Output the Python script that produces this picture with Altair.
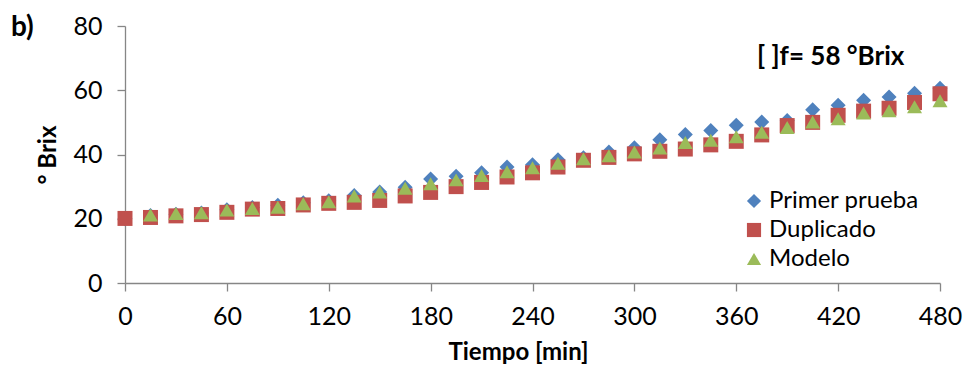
import altair as alt
import pandas as pd

times = list(range(0, 481, 15))

primer = [20.0, 21.0, 21.4, 21.8, 22.8, 23.5, 24.2, 25.0, 25.6, 27.2, 28.3, 29.8,
          32.4, 33.2, 34.3, 36.1, 36.8, 38.4, 39.0, 40.8, 42.1, 44.6, 46.2, 47.5,
          49.1, 50.1, 50.6, 53.9, 55.3, 56.9, 57.9, 59.1, 60.6]
duplicado = [20.1, 20.4, 20.9, 21.3, 22.0, 23.0, 23.2, 24.3, 24.8, 25.1, 25.7, 27.1,
             28.2, 30.0, 31.3, 33.0, 34.3, 36.1, 38.2, 39.1, 40.2, 41.0, 41.7, 43.0,
             44.1, 46.1, 49.0, 50.0, 52.2, 53.5, 54.4, 56.2, 58.9]
modelo = [None, 21.2, 21.6, 21.9, 22.7, 23.2, 23.6, 24.7, 25.3, 27.1, 28.3, 29.5,
          30.9, 32.1, 33.5, 34.6, 35.9, 37.3, 38.7, 39.6, 40.8, 42.0, 43.7, 44.4,
          45.5, 46.9, 48.4, 50.1, 51.1, 52.9, 53.6, 54.9, 56.7]

series_names = ["Primer prueba", "Duplicado", "Modelo"]
series_values = [primer, duplicado, modelo]
series_colors = ["#4F81BD", "#C0504D", "#9BBB59"]
series_shapes = ["diamond", "square", "triangle-up"]

x_ticks = list(range(0, 481, 60))
y_ticks = [0, 20, 40, 60, 80]

rows = []
for name, vals in zip(series_names, series_values):
    for t, v in zip(times, vals):
        if v is not None:
            rows.append({"Tiempo": t, "Brix": v, "Serie": name})
df = pd.DataFrame(rows)

FONT = "Lato"

legend_opts = dict(title=None, orient="none", legendX=617, legendY=163,
                   labelFontSize=24, labelFont=FONT, labelColor="#000000",
                   symbolSize=200, rowPadding=5, labelOffset=3, symbolOpacity=1)

points = alt.Chart(df).mark_point(filled=True, opacity=1, size=225).encode(
    x=alt.X("Tiempo:Q",
            scale=alt.Scale(domain=[0, 480], nice=False, zero=False),
            axis=alt.Axis(values=x_ticks, title="Tiempo [min]", grid=False,
                          labelFlush=False, titleX=393)),
    y=alt.Y("Brix:Q",
            scale=alt.Scale(domain=[0, 80], nice=False),
            axis=alt.Axis(values=y_ticks, title="° Brix", grid=False,
                          labelFlush=False)),
    color=alt.Color("Serie:N",
                    scale=alt.Scale(domain=series_names, range=series_colors),
                    legend=alt.Legend(**legend_opts)),
    shape=alt.Shape("Serie:N",
                    scale=alt.Scale(domain=series_names, range=series_shapes),
                    legend=alt.Legend(**legend_opts)),
)

label_df = pd.DataFrame({"k": [0]})
annot = alt.Chart(label_df).mark_text(
    text="[ ]f= 58 °Brix", font=FONT, fontSize=26, fontWeight="bold",
    align="left", baseline="alphabetic", color="#000000"
).encode(x=alt.value(632), y=alt.value(39))

panel = alt.Chart(label_df).mark_text(
    text="b)", font=FONT, fontSize=28, fontWeight="bold",
    align="left", baseline="alphabetic", color="#000000"
).encode(x=alt.value(-114), y=alt.value(10))

chart = alt.layer(points, annot, panel).properties(
    width=815, height=257,
    autosize=alt.AutoSizeParams(type="none"),
    padding={"left": 117, "top": 18, "right": 23, "bottom": 84},
).configure_view(stroke=None).configure_axis(
    domainColor="#868686", tickColor="#868686", domainWidth=1.3, tickWidth=1.3,
    tickSize=8, labelFont=FONT, labelFontSize=25, labelColor="#000000",
    titleFont=FONT, titleFontSize=24, titleFontWeight="bold", titleColor="#000000",
).configure_axisX(labelPadding=13, titlePadding=11
).configure_axisY(labelPadding=15, titlePadding=12)

chart.save("out.html", embed_options={"renderer": "svg", "actions": False})
